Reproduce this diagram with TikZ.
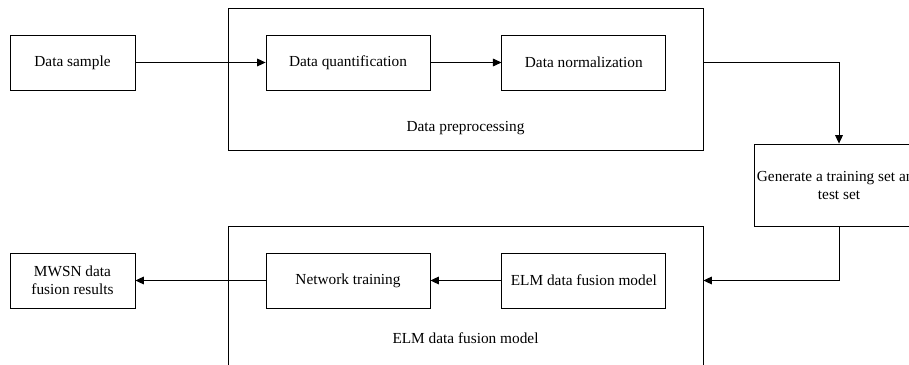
\documentclass[tikz,border=0pt]{standalone}
\usepackage{fontspec}
\setmainfont{Liberation Serif}
\usepackage{tikz}
\usetikzlibrary{arrows.meta,calc,positioning}

\begin{document}
\begin{tikzpicture}[x=1cm,y=1cm,>={Triangle[length=6pt,width=5.5pt]},line width=0.6pt,
    font=\fontsize{10.9}{13}\selectfont,
    blk/.style={draw,minimum width=4.1cm,minimum height=1.375cm,inner sep=2pt},
    grp/.style={draw,minimum width=11.875cm},
    flow/.style={->}]

  \clip (0,0) rectangle (22.725,9.125);

  % Top row = data preprocessing
  \node[grp,minimum height=3.55cm] (pre) at (11.6375,7.15) {};
  \node (prelbl) at (11.6375,5.925) {Data preprocessing};
  \node[blk,minimum width=3.125cm] (sample) at (1.8125,7.5625) {Data sample};
  \node[blk] (quant) at (8.7,7.5625) {Data quantification};
  \node[blk,right=1.775cm of quant] (norm) {Data normalization};

  % Right = training/test split
  \node[blk,minimum width=4.05cm,minimum height=2.05cm,align=center] (gen) at (20.975,4.5)
    {Generate a training set and\\test set};

  % Bottom row = ELM model
  \node[grp,minimum height=4.1cm] (elm) at (11.6375,1.425) {};
  \node (elmlbl) at (11.6375,0.675) {ELM data fusion model};
  \node[blk] (train) at (8.7,2.1125) {Network training};
  \node[blk,right=1.775cm of train] (model) {ELM data fusion model};
  \node[blk,minimum width=3.125cm,align=center] (result) at (1.8125,2.1125)
    {MWSN data\\fusion results};

  % Connectors
  \draw[flow] (sample) -- (quant);
  \draw[flow] (quant) -- (norm);
  \draw[flow] (pre.east |- norm) -| (gen.north);
  \draw[flow] (gen.south) |- (elm.east |- train);
  \draw[flow] (model) -- (train);
  \draw[flow] (train) -- (result);

\end{tikzpicture}
\end{document}
